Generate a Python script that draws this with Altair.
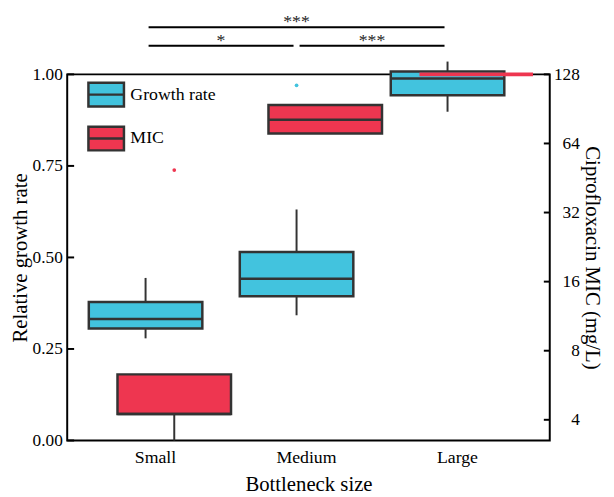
import altair as alt
import pandas as pd

# ---------------- data ----------------
categories = ["Small", "Medium", "Large"]
series = ["Growth rate", "MIC"]

growth_low = [0.279, 0.342, 0.898]
growth_q1 = [0.306, 0.394, 0.943]
growth_median = [0.332, 0.442, 0.989]
growth_q3 = [0.378, 0.515, 1.008]
growth_high = [0.444, 0.631, 1.035]
growth_outlier_cat = ["Medium"]
growth_outlier_val = [0.970]

mic_low = [3.25, 70.7, 128]
mic_q1 = [4.24, 70.7, 128]
mic_median = [4.24, 81.2, 128]
mic_q3 = [6.31, 94.2, 128]
mic_high = [6.31, 94.2, 128]
mic_outlier_cat = ["Small"]
mic_outlier_val = [49.0]

growth_ticks = [0.0, 0.25, 0.5, 0.75, 1.0]
mic_ticks = [4, 8, 16, 32, 64, 128]

sig_from = ["Small", "Small", "Medium"]
sig_to = ["Large", "Medium", "Large"]
sig_label = ["***", "*", "***"]
sig_height = [1.129, 1.078, 1.078]   # in growth-rate units, above the panel

# ---------------- styling / layout ----------------
CYAN = "#42C3DE"
RED = "#EE3650"
EDGE = "#333333"
FONT = "Liberation Serif"
W, H = 489, 371
OFF = 0.095     # dodge of each series from the category centre
HALF = 0.376    # half box width (x units)
GAP = 0.02

idx = {c: i for i, c in enumerate(categories)}


def box_frame(lo, q1, med, q3, hi, off, name):
    df = pd.DataFrame({"cat": categories, "lo": lo, "q1": q1, "med": med,
                       "q3": q3, "hi": hi})
    df["pos"] = [idx[c] + off for c in df["cat"]]
    df["x0"] = df["pos"] - HALF
    df["x1"] = df["pos"] + HALF
    df["series"] = name
    return df


gdf = box_frame(growth_low, growth_q1, growth_median, growth_q3, growth_high, -OFF, series[0])
mdf = box_frame(mic_low, mic_q1, mic_median, mic_q3, mic_high, OFF, series[1])
mdf["flat"] = mdf["q3"] <= mdf["q1"]

gout = pd.DataFrame({"pos": [idx[c] - OFF for c in growth_outlier_cat], "v": growth_outlier_val})
mout = pd.DataFrame({"pos": [idx[c] + OFF for c in mic_outlier_cat], "v": mic_outlier_val})

sig = pd.DataFrame({"a": sig_from, "b": sig_to, "label": sig_label, "v": sig_height})
sig["x0"] = [idx[a] - OFF + GAP for a in sig["a"]]
sig["x1"] = [idx[b] - OFF - GAP for b in sig["b"]]
sig["xm"] = (sig["x0"] + sig["x1"]) / 2

gticks = pd.DataFrame({"v": growth_ticks})
mticks = pd.DataFrame({"v": mic_ticks})

label_expr = "[" + ",".join("'%s'" % c for c in categories) + "][datum.value]"

xs = alt.Scale(domain=[-0.614, 2.582], nice=False, zero=False)
xaxis = alt.Axis(values=list(range(len(categories))), labelExpr=label_expr,
                 title="Bottleneck size", grid=False, ticks=False, domain=False,
                 labelPadding=8, labelOffset=-5, labelFontSize=18,
                 titleFontSize=21, titleY=51, titleBaseline="alphabetic")

ys = alt.Scale(domain=[0, 1], nice=False, zero=False)
yaxis = alt.Axis(values=growth_ticks, format=".2f", title="Relative growth rate",
                 grid=False, ticks=False, domain=False, labelPadding=5,
                 labelFontSize=17.5, titleFontSize=21, titlePadding=2)

ms = alt.Scale(type="log", base=2, domain=[3.25, 128], nice=False, zero=False)
maxis = alt.Axis(values=mic_ticks, format="d", orient="right",
                 title="Ciprofloxacin MIC (mg/L)", grid=False, ticks=False,
                 domain=False, labelAlign="right", labelPadding=30,
                 labelFontSize=17.5, titleFontSize=21, titlePadding=2)


def X(f):
    return alt.X(f, type="quantitative", scale=xs, axis=xaxis)


def GY(f):
    return alt.Y(f, type="quantitative", scale=ys, axis=yaxis)


def MY(f):
    return alt.Y(f, type="quantitative", scale=ms, axis=maxis)


color = alt.Color("series:N", scale=alt.Scale(domain=series, range=[CYAN, RED]),
                  legend=alt.Legend(orient="none", legendX=20, legendY=1, title=None,
                                    symbolType="M-1,-0.667H1V0.667H-1Z M-1,0H1",
                                    symbolSize=1296, symbolStrokeColor=EDGE,
                                    symbolStrokeWidth=2.5, symbolOpacity=1,
                                    labelFontSize=18, labelFont=FONT,
                                    labelColor="black", labelOffset=5,
                                    rowPadding=7.5, padding=0))

# ---------- growth-rate layer (left axis) ----------
g_ticks = alt.Chart(gticks).mark_rule(color="black", strokeWidth=2).encode(
    x=alt.value(0), x2=alt.value(7), y=GY("v"))
g_whisk = alt.Chart(gdf).mark_rule(color=EDGE, strokeWidth=2).encode(
    x=X("pos"), y=GY("lo"), y2="hi")
g_box = alt.Chart(gdf).mark_rect(stroke=EDGE, strokeWidth=2.5, opacity=1).encode(
    x=X("x0"), x2="x1", y=GY("q1"), y2="q3", color=color)
g_med = alt.Chart(gdf).mark_rule(color=EDGE, strokeWidth=2.5).encode(
    x=X("x0"), x2="x1", y=GY("med"))
g_out = alt.Chart(gout).mark_circle(color=CYAN, size=14, opacity=1).encode(
    x=X("pos"), y=GY("v"))
s_rule = alt.Chart(sig).mark_rule(color="black", strokeWidth=2).encode(
    x=X("x0"), x2="x1", y=GY("v"))
s_text = alt.Chart(sig).mark_text(fontSize=18, font=FONT, color="#222",
                                  baseline="alphabetic", dy=0).encode(
    x=X("xm"), y=GY("v"), text="label:N")

growth_layer = alt.layer(g_ticks, g_whisk, g_box, g_med, g_out, s_rule, s_text)

# ---------- MIC layer (right axis) ----------
m_ticks = alt.Chart(mticks).mark_rule(color="black", strokeWidth=2).encode(
    x=alt.value(W - 6), x2=alt.value(W), y=MY("v"))
m_whisk = alt.Chart(mdf).mark_rule(color=EDGE, strokeWidth=2).encode(
    x=X("pos"), y=MY("lo"), y2="hi")
m_box = alt.Chart(mdf).transform_filter("!datum.flat").mark_rect(
    stroke=EDGE, strokeWidth=2.5, opacity=1).encode(
    x=X("x0"), x2="x1", y=MY("q1"), y2="q3", color=color)
m_med = alt.Chart(mdf).transform_filter("!datum.flat").mark_rule(
    color=EDGE, strokeWidth=2.5).encode(x=X("x0"), x2="x1", y=MY("med"))
m_flat = alt.Chart(mdf).transform_filter("datum.flat").mark_rule(
    color=RED, strokeWidth=4).encode(x=X("x0"), x2="x1", y=MY("med"))
m_out = alt.Chart(mout).mark_circle(color=RED, size=14, opacity=1).encode(
    x=X("pos"), y=MY("v"))

mic_layer = alt.layer(m_ticks, m_whisk, m_box, m_med, m_flat, m_out)

chart = alt.layer(growth_layer, mic_layer).resolve_scale(y="independent").properties(
    width=W, height=H,
    autosize=alt.AutoSizeParams(type="none"),
    padding={"left": 60, "top": 64, "right": 57, "bottom": 54},
).configure(font=FONT).configure_view(stroke="black", strokeWidth=2).configure_axis(
    labelColor="black", titleColor="black", titleFontWeight="normal",
    labelFont=FONT, titleFont=FONT)

chart.save("out.html", embed_options={"renderer": "svg", "actions": False})
